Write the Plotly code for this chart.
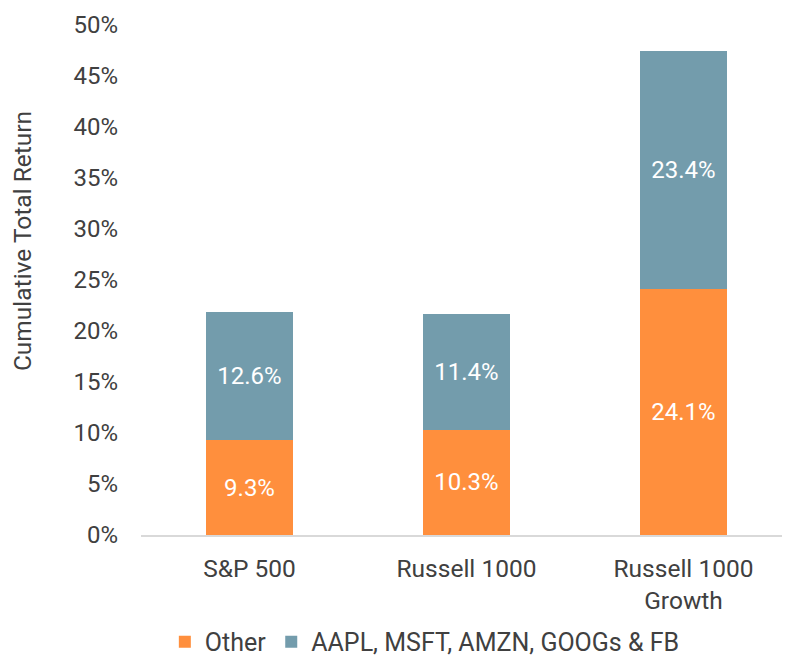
import plotly.graph_objects as go

categories = ['S&P 500', 'Russell 1000', 'Russell 1000<br>Growth']
other = [9.3, 10.3, 24.1]
big_five = [12.6, 11.4, 23.4]
y_ticks = [0, 5, 10, 15, 20, 25, 30, 35, 40, 45, 50]

font = 'Roboto'
text_grey = '#404040'

fig = go.Figure()
fig.add_trace(go.Bar(
    name='Other',
    x=categories,
    y=other,
    marker=dict(color='#FF8F3D', line=dict(width=0)),
    text=[f'{v:.1f}%' for v in other],
    textposition='inside',
    insidetextanchor='middle',
    textfont=dict(color='white', size=24, family=font),
))
fig.add_trace(go.Bar(
    name='AAPL, MSFT, AMZN, GOOGs & FB',
    x=categories,
    y=big_five,
    marker=dict(color='#739CAC', line=dict(width=0)),
    text=[f'{v:.1f}%' for v in big_five],
    textposition='inside',
    insidetextanchor='middle',
    textfont=dict(color='white', size=24, family=font),
))

# y title sits above the middle of the axis in the original, so use an annotation
fig.add_annotation(
    text='Cumulative Total Return',
    xref='paper', yref='paper',
    x=-0.183, y=0.576,
    xanchor='center', yanchor='middle',
    textangle=-90,
    showarrow=False,
    font=dict(size=24.5, color=text_grey),
)

# page body has an 8px margin, so margins are shifted to compensate
fig.update_layout(
    barmode='stack',
    bargap=0.6,
    width=790,
    height=659,
    margin=dict(l=133, r=6, t=17, b=132),
    plot_bgcolor='white',
    paper_bgcolor='white',
    font=dict(family=font, size=24, color=text_grey),
    uniformtext=dict(minsize=10, mode='show'),
    legend=dict(
        orientation='h',
        x=0.436,
        xanchor='center',
        yref='container',
        y=0.038,
        yanchor='middle',
        font=dict(size=25, color=text_grey),
        itemwidth=30,
        traceorder='normal',
    ),
    xaxis=dict(
        showline=True,
        linecolor='#D9D9D9',
        linewidth=2,
        ticks='',
        automargin=False,
        ticklabelstandoff=11,
        tickfont=dict(size=24.5, color=text_grey),
    ),
    yaxis=dict(
        range=[0, 50],
        tickvals=y_ticks,
        ticktext=[f'{v}%' for v in y_ticks],
        showgrid=False,
        zeroline=False,
        automargin=False,
        ticklabelstandoff=22,
        tickfont=dict(size=24, color=text_grey),
    ),
)

fig.write_html('out.html')
